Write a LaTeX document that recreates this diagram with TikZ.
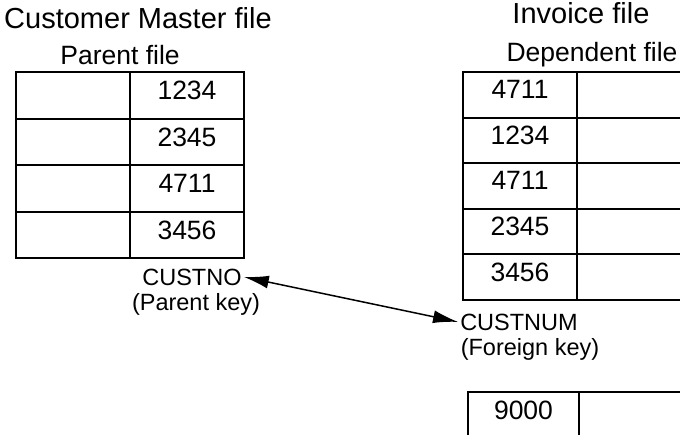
\documentclass[tikz,border=0pt]{standalone}
\usepackage{fontspec}
\setmainfont{Liberation Sans}
\usetikzlibrary{arrows.meta}
\begin{document}
\begin{tikzpicture}[x=1pt,y=-1pt,
  cell/.style={draw, line width=2pt, minimum width=114pt, minimum height=46.5pt,
    inner sep=0pt, outer sep=0pt, anchor=north west, text depth=10pt,
    font=\fontsize{26.5}{27}\selectfont},
  titletext/.style={anchor=base, inner sep=0pt, font=\fontsize{29}{30}\selectfont},
  subtext/.style={anchor=base, inner sep=0pt, font=\fontsize{26.5}{28}\selectfont},
  keytext/.style={anchor=base, inner sep=2pt, font=\fontsize{23.5}{24}\selectfont},
  link/.style={line width=1.5pt, {Latex[length=25pt,width=13pt]}-{Latex[length=25pt,width=13pt]}}
]
\useasboundingbox (0,0) rectangle (680,434);
\clip (0,0) rectangle (680,434);

% titles
\node[titletext] (cmf) at (138,28) {Customer Master file};
\node[subtext] (pf) at (120,64) {Parent file};
\node[titletext] (inv) at (581,23) {Invoice file};
\node[subtext] (dep) at (592,61) {Dependent file};

% parent table
\foreach \n/\v [count=\i from 0] in {a/1234,b/2345,c/4711,d/3456}{
  \node[cell] (pl\n) at (16,72+46.5*\i) {};
  \node[cell] (pr\n) at (130,72+46.5*\i) {\v};
}

% dependent table
\foreach \n/\v [count=\i from 0] in {a/4711,b/1234,c/4711,d/2345,e/3456}{
  \node[cell, minimum height=45.5pt] (dl\n) at (463,72+45.5*\i) {\v};
  \node[cell, minimum height=45.5pt, minimum width=130pt] (dr\n) at (577,72+45.5*\i) {};
}

% extra record
\node[cell, minimum width=111pt] (xl) at (468,392) {9000};
\node[cell, minimum width=130pt] (xr) at (579,392) {};

% key labels
\node[keytext] (custno) at (192,285) {CUSTNO};
\node[keytext] (pkey) at (196,310) {(Parent key)};
\node[keytext] (custnum) at (519,330) {CUSTNUM};
\node[keytext] (fkey) at (530,355) {(Foreign key)};

\draw[link] (custno.east) -- (custnum.west);
\end{tikzpicture}
\end{document}
